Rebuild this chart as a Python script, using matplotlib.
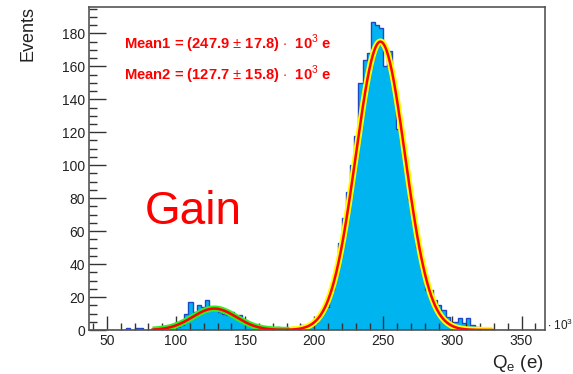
import numpy as np
import matplotlib
matplotlib.use('Agg')
import matplotlib.pyplot as plt

plt.rcParams['font.family'] = ['Liberation Sans', 'DejaVu Sans']
plt.rcParams['mathtext.fontset'] = 'custom'
plt.rcParams['mathtext.rm'] = 'Liberation Sans'
plt.rcParams['mathtext.bf'] = 'Liberation Sans:bold'

# histogram: 110 bins of 3 (x 10^3 e) from 37 to 367
bin_lo = 37
bin_w = 3
counts = [
    0, 0, 0, 0, 0, 0, 0, 0, 0, 1,        # 37 - 67
    0, 1, 1, 0, 0, 0, 0, 0, 0, 1,        # 67 - 97
    0, 2, 3, 10, 17, 11, 15, 14, 18, 14,  # 97 - 127
    14, 11, 10, 9, 11, 8, 9, 6, 4, 3,     # 127 - 157
    2, 1, 1, 2, 1, 2, 1, 0, 1, 2,         # 157 - 187
    2, 3, 2, 3, 4, 8, 13, 14, 24, 36,     # 187 - 217
    53, 68, 84, 100, 118, 150, 164, 168, 187, 185,   # 217 - 247
    183, 160, 169, 148, 122, 115, 100, 79, 65, 50,   # 247 - 277
    36, 24, 24, 18, 15, 12, 8, 5, 5, 7,   # 277 - 307
    4, 7, 3, 2, 1, 0, 0, 0, 0, 0,         # 307 - 337
    0, 0, 0, 0, 0, 0, 0, 0, 0, 0,         # 337 - 367
]
edges = bin_lo + bin_w * np.arange(len(counts) + 1)

# fit results (10^3 e)
mean1, sigma1, amp1 = 247.9, 17.8, 175.0
mean2, sigma2, amp2 = 127.7, 15.8, 13.0
fit1_range = (182, 329)
fit2_range = (83, 182)


def gaus(x, a, m, s):
    return a * np.exp(-0.5 * ((x - m) / s) ** 2)


fig = plt.figure(figsize=(5.73, 3.74), dpi=100)
ax = fig.add_axes([89 / 573, 1 - 330 / 374, 456 / 573, 323 / 374])

ax.stairs(counts, edges, fill=True, color='#00b4f0', lw=0)
ax.stairs(counts, edges, color='#2046c8', lw=1.0)

x1 = np.linspace(*fit1_range, 300)
x2 = np.linspace(*fit2_range, 300)
ax.plot(x1, gaus(x1, amp1, mean1, sigma1), color='#ffff00', lw=4.5, solid_capstyle='butt')
ax.plot(x2, gaus(x2, amp2, mean2, sigma2), color='#33ee22', lw=4.5, solid_capstyle='butt')
xa = np.linspace(fit2_range[0], fit1_range[1], 600)
ax.plot(xa, gaus(xa, amp1, mean1, sigma1) + gaus(xa, amp2, mean2, sigma2),
        color='#ff0000', lw=1.8)

ax.set_xlim(37, 367)
ax.set_ylim(0, 196)
ax.set_xticks(np.arange(50, 351, 50))
ax.set_xticks(np.arange(40, 367, 10), minor=True)
ax.set_yticks(np.arange(0, 181, 20))
ax.set_yticks(np.arange(0, 196, 5), minor=True)
ax.tick_params(which='both', direction='in', top=False, right=False,
               colors='#333333', labelcolor='#222222', labelsize=10, width=1)
ax.tick_params(axis='y', which='major', length=12, pad=3)
ax.tick_params(axis='y', which='minor', length=6)
ax.tick_params(axis='x', which='major', length=10, pad=3)
ax.tick_params(axis='x', which='minor', length=5)
for sp in ax.spines.values():
    sp.set_color('#555555')
    sp.set_linewidth(1.2)

fig.text(28 / 573, 1 - 6 / 374, 'Events', rotation=90, ha='center', va='top',
         fontsize=13, color='#222222')
fig.text(544 / 573, 1 - 364 / 374, r'Q$_{\mathregular{e}}$ (e)', ha='right',
         va='center', fontsize=13.5, color='#222222')
fig.text(547 / 573, 1 - 325 / 374, r'$\cdot$ 10$^{3}$', ha='left', va='center',
         fontsize=8.5, color='#222222')

fig.text(124 / 573, 1 - 44 / 374, r'Mean1 = (247.9 $\pm$ 17.8) $\cdot$  10$^{3}$ e',
         color='#ff0000', fontsize=10.6, fontweight='bold', va='center')
fig.text(124 / 573, 1 - 75 / 374, r'Mean2 = (127.7 $\pm$ 15.8) $\cdot$  10$^{3}$ e',
         color='#ff0000', fontsize=10.6, fontweight='bold', va='center')
fig.text(193 / 573, 1 - 212 / 374, 'Gain', ha='center', va='center',
         fontsize=33, color='#ff0000')

fig.savefig('out.png', dpi=100)
